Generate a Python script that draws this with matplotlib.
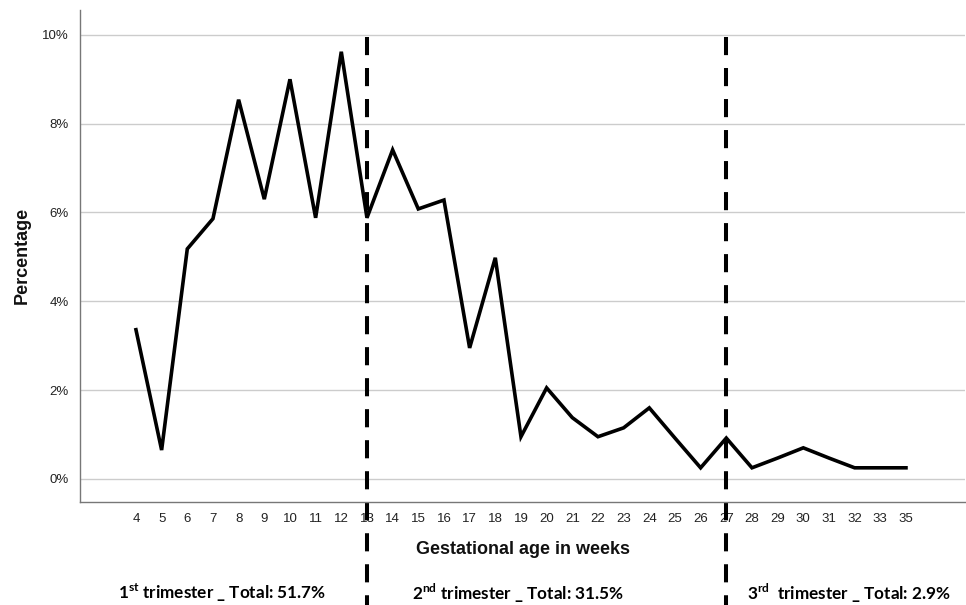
import matplotlib
matplotlib.use("Agg")
import matplotlib.pyplot as plt

# gestational week categories (no week 34 in the data)
weeks = [str(w) for w in range(4, 34)] + ["35"]
percent = [3.36, 0.65, 5.18, 5.86, 8.54, 6.30, 9.00, 5.88, 9.62, 5.88,
           7.41, 6.08, 6.28, 2.95, 4.98, 0.95, 2.05, 1.38, 0.95, 1.15,
           1.60, 0.92, 0.25, 0.92, 0.25, 0.47, 0.70, 0.47, 0.25, 0.25, 0.25]
yticks = [0, 2, 4, 6, 8, 10]
trimester_breaks = ["13", "27"]
trimester_labels = [r"1$^{\mathbf{st}}$ trimester _ Total: 51.7%",
                    r"2$^{\mathbf{nd}}$ trimester _ Total: 31.5%",
                    r"3$^{\mathbf{rd}}$  trimester _ Total: 2.9%"]

plt.rcParams['font.family'] = ['Liberation Sans', 'DejaVu Sans']
plt.rcParams['mathtext.fontset'] = 'custom'
plt.rcParams['mathtext.rm'] = 'Lato'
plt.rcParams['mathtext.bf'] = 'Lato:bold'

fig = plt.figure(figsize=(9.66, 6.05), dpi=100)
ax = fig.add_axes([80 / 966, 1 - 502 / 605, (965 - 80) / 966, (502 - 10) / 605])

x = list(range(len(weeks)))
ax.plot(x, percent, color='black', lw=2.6, solid_joinstyle='miter')

ax.set_xlim(-2.18, 32.3)
ax.set_ylim(-0.52, 10.56)
ax.set_xticks(x)
ax.set_xticklabels(weeks, fontsize=9.5, color='#222222')
ax.set_yticks(yticks)
ax.set_yticklabels([f"{v}%" for v in yticks], fontsize=9.5, color='#222222')
ax.tick_params(length=0, pad=8)
ax.grid(axis='y', color='#cccccc', lw=1)
ax.set_axisbelow(True)
for s in ['top', 'right']:
    ax.spines[s].set_visible(False)
for s in ['left', 'bottom']:
    ax.spines[s].set_color('#777777')
    ax.spines[s].set_linewidth(1)

# dashed trimester separators, running past the axes down to the bottom
for b in trimester_breaks:
    ax.axvline(weeks.index(b), ymin=(502 - 37) / 492, ymax=(502 - 610) / 492,
               color='black', lw=2.9, dashes=(4.5, 3.2), clip_on=False)

fig.text(22 / 966, 1 - 255 / 605, "Percentage", rotation=90, fontsize=13,
         fontweight='bold', color='#111111', ha='center', va='center')
fig.text(523 / 966, 1 - 550 / 605, "Gestational age in weeks", fontsize=13,
         fontweight='bold', color='#111111', ha='center', va='center')
for xc, lab in zip([222, 518, 849], trimester_labels):
    fig.text(xc / 966, 1 - 593 / 605, lab, fontsize=12.3, family='Lato',
             fontweight='bold', ha='center', va='center')

fig.savefig("out.png", dpi=100)
